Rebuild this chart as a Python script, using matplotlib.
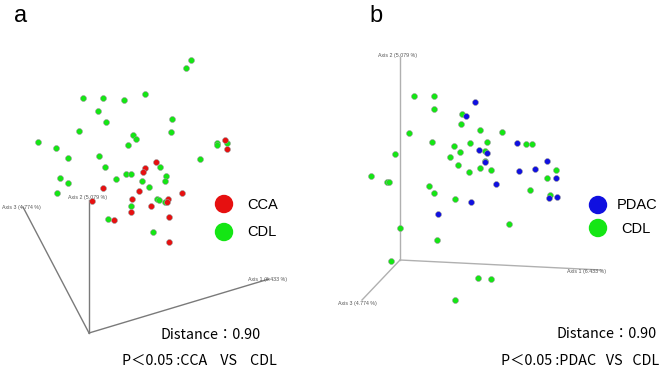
import matplotlib
matplotlib.use("Agg")
import matplotlib.pyplot as plt

# panel a: PCoA points (screen coordinates)
a_cdl_x = [190.7, 186.0, 83.3, 103.0, 123.7, 145.3, 98.3, 106.3, 171.7, 79.0, 171.0, 133.3,
           136.3, 127.7, 38.3, 56.3, 67.7, 99.3, 104.7, 217.0, 216.7, 226.7, 199.7, 160.3,
           60.0, 68.0, 116.0, 126.0, 130.7, 142.0, 149.3, 166.0, 164.7, 57.3, 157.3, 159.0,
           165.0, 130.7, 108.3, 152.7]
a_cdl_y = [59.7, 68.3, 98.3, 97.7, 100.3, 94.0, 111.3, 122.0, 118.7, 131.3, 132.3, 135.0,
           139.0, 145.0, 142.0, 148.0, 157.7, 156.3, 167.3, 142.7, 145.3, 143.3, 158.7, 166.7,
           178.3, 183.3, 179.0, 174.3, 174.0, 181.0, 186.7, 176.0, 180.7, 193.3, 199.0, 200.3,
           202.3, 206.3, 219.0, 232.3]
a_cca_x = [224.7, 226.7, 156.0, 145.0, 142.7, 103.3, 139.0, 182.0, 131.7, 167.7, 166.7,
           150.7, 130.7, 169.0, 114.3, 168.7, 92.0]
a_cca_y = [140.3, 149.3, 161.7, 167.7, 172.0, 187.7, 191.0, 193.0, 199.3, 198.7, 202.3,
           206.0, 212.3, 216.7, 219.7, 242.3, 200.7]

# panel b
b_cdl_x = [414.3, 433.7, 434.3, 461.7, 460.7, 409.0, 479.7, 502.0, 432.0, 454.0, 470.0,
           486.7, 525.7, 531.7, 395.3, 459.7, 450.0, 485.0, 458.0, 485.0, 480.3, 490.7,
           469.3, 371.0, 387.3, 389.0, 556.3, 547.0, 429.3, 434.3, 529.7, 550.3, 455.3,
           508.7, 400.0, 436.7, 391.3, 478.3, 490.7, 455.3]
b_cdl_y = [96.3, 96.3, 109.0, 113.7, 123.7, 133.3, 130.0, 132.3, 142.0, 146.0, 142.7,
           142.3, 144.3, 144.0, 153.7, 152.3, 157.3, 150.7, 164.7, 161.3, 168.3, 169.7,
           172.3, 176.0, 181.7, 181.7, 170.0, 177.7, 185.7, 193.0, 189.7, 194.7, 199.0,
           224.0, 227.7, 239.7, 261.3, 278.0, 279.0, 300.0]
b_pdac_x = [475.3, 465.7, 517.3, 478.7, 486.7, 485.0, 546.7, 519.0, 534.7, 556.3, 496.0,
            471.3, 548.7, 557.3, 438.0]
b_pdac_y = [102.0, 115.7, 142.7, 150.0, 153.0, 162.3, 160.7, 171.3, 168.7, 178.3, 184.3,
            201.7, 197.7, 197.3, 213.7]

# 3D axis frames: origin, axis1 end, axis2 end, axis3 end
a_frame = {"o": (89, 333), "ax1": (269, 279), "ax2": (89, 200), "ax3": (23, 207)}
b_frame = {"o": (400, 260), "ax1": (601, 270), "ax2": (400, 57), "ax3": (362, 300)}
axis_names = ["Axis 1 (6.433 %)", "Axis 2 (5.079 %)", "Axis 3 (4.774 %)"]

GREEN = "#14e614"
RED = "#e61010"
BLUE = "#1010e0"
CJK = ["Noto Sans CJK JP", "DejaVu Sans"]
SANS = ["Liberation Sans", "DejaVu Sans"]

fig = plt.figure(figsize=(6.69, 3.69), dpi=100)
ax = fig.add_axes([0, 0, 1, 1])
ax.set_xlim(0, 669)
ax.set_ylim(369, 0)
ax.axis("off")


def draw_frame(frame, color, labels):
    ox, oy = frame["o"]
    for key in ("ax1", "ax2", "ax3"):
        ex, ey = frame[key]
        ax.plot([ox, ex], [oy, ey], color=color, lw=1.0, zorder=1)
    for (x, y, ha), text in zip(labels, axis_names):
        ax.text(x, y, text, fontsize=3.8, color="#555555", ha=ha, va="center", family=SANS)


draw_frame(a_frame, "#7a7a7a", [(248, 279, "left"), (68, 197, "left"), (2, 208, "left")])
draw_frame(b_frame, "#b0b0b0", [(567, 271, "left"), (378, 56, "left"), (338, 303, "left")])

dot = dict(s=18, edgecolors="#9a9a9a", linewidths=0.4, zorder=3)
ax.scatter(a_cdl_x, a_cdl_y, color=GREEN, **dot)
ax.scatter(a_cca_x, a_cca_y, color=RED, **dot)
ax.scatter(b_cdl_x, b_cdl_y, color=GREEN, **dot)
ax.scatter(b_pdac_x, b_pdac_y, color=BLUE, **dot)

# legends
ax.scatter([224, 224], [204, 232], s=150, color=[RED, GREEN], zorder=3)
ax.text(247, 205, "CCA", fontsize=10.5, va="center", family=SANS)
ax.text(247, 232, "CDL", fontsize=10.5, va="center", family=SANS)
ax.scatter([598, 598], [205, 228], s=150, color=[BLUE, GREEN], zorder=3)
ax.text(617, 205, "PDAC", fontsize=10.5, va="center", family=SANS)
ax.text(621, 229, "CDL", fontsize=10.5, va="center", family=SANS)

# panel labels and stats
ax.text(14, 16, "a", fontsize=17, va="center", family=SANS)
ax.text(369, 16, "b", fontsize=17, va="center", family=SANS)
stat = dict(fontsize=10.3, va="center", family=CJK)
ax.text(160, 335, "Distance：0.90", **stat)
ax.text(122, 361, "P＜0.05 :CCA    VS    CDL", **stat)
ax.text(557, 334, "Distance：0.90", **stat)
ax.text(501, 361, "P＜0.05 :PDAC   VS   CDL", **stat)

fig.savefig("out.png", dpi=100)
